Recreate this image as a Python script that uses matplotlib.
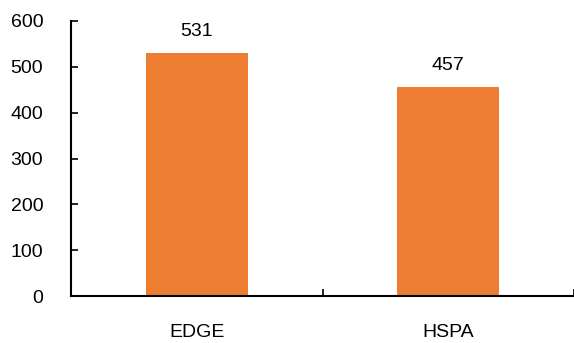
import matplotlib.pyplot as plt

plt.rcParams['font.family'] = ['Liberation Sans', 'DejaVu Sans']

networks = ['EDGE', 'HSPA']
speeds = [531, 457]

fig = plt.figure(figsize=(5.74, 3.43), dpi=100)
ax = fig.add_axes([0.1237, 0.137, 0.8763, 0.8018])

x = range(len(networks))
bars = ax.bar(x, speeds, width=0.405, color='#ED7D31')

for bar, val in zip(bars, speeds):
    ax.text(bar.get_x() + bar.get_width() / 2, val + 27, str(val),
            ha='center', va='bottom', fontsize=14)

ax.set_xlim(-0.5, 1.5)
ax.set_ylim(0, 600)
ax.set_yticks(range(0, 601, 100))
ax.set_xticks(list(x), networks)
ax.set_xticks([-0.5, 0.5, 1.5], minor=True)

ax.tick_params(axis='y', direction='in', length=5, width=1.2, pad=20, labelsize=14)
ax.tick_params(axis='x', which='major', length=0, pad=20, labelsize=14)
ax.tick_params(axis='x', which='minor', direction='in', length=5, width=1.2)

for side in ['top', 'right']:
    ax.spines[side].set_visible(False)
for side in ['left', 'bottom']:
    ax.spines[side].set_linewidth(1.5)

plt.savefig('out.png', dpi=100)
